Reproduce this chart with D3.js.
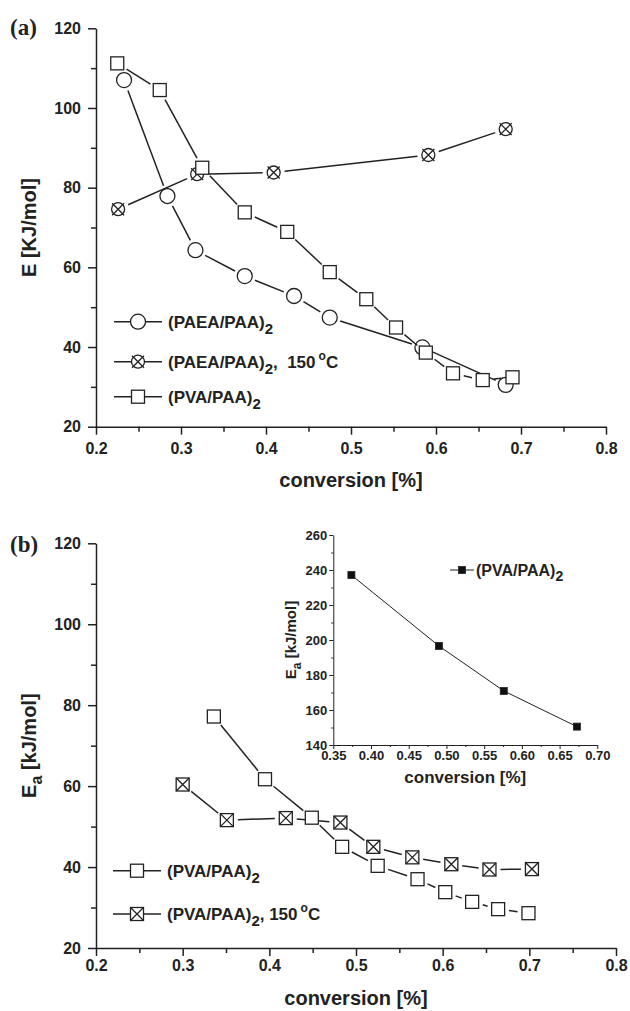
<!DOCTYPE html>
<html>
<head>
<meta charset="utf-8">
<script src="https://cdn.jsdelivr.net/npm/d3@7"></script>
<style>
body { margin: 0; background: #fff; }
svg text { font-family: "Liberation Sans", Arial, Helvetica, sans-serif; font-weight: bold; fill: #222; }
.axis path, .axis line { stroke: #222; stroke-width: 1.5; }
</style>
</head>
<body>
<svg id="chart" width="630" height="1011"></svg>
<script>
// ---- panel (a) data ----
var aXTicks = [0.2, 0.3, 0.4, 0.5, 0.6, 0.7, 0.8];
var aYTicks = [20, 40, 60, 80, 100, 120];
var paeaX = [0.233, 0.284, 0.317, 0.375, 0.433, 0.475, 0.584, 0.682];
var paeaY = [107.0, 77.9, 64.3, 57.8, 52.8, 47.4, 39.9, 30.5];
var paea150X = [0.226, 0.319, 0.409, 0.591, 0.682];
var paea150Y = [74.6, 83.4, 83.8, 88.2, 94.7];
var pvaAX = [0.225, 0.275, 0.325, 0.375, 0.425, 0.475, 0.518, 0.553, 0.588, 0.620, 0.655, 0.690];
var pvaAY = [111.2, 104.5, 85.0, 73.8, 68.9, 58.8, 52.0, 44.9, 38.6, 33.4, 31.7, 32.4];

// ---- panel (b) data ----
var bXTicks = [0.2, 0.3, 0.4, 0.5, 0.6, 0.7, 0.8];
var bYTicks = [20, 40, 60, 80, 100, 120];
var pvaBX = [0.336, 0.395, 0.449, 0.484, 0.525, 0.571, 0.603, 0.634, 0.664, 0.699];
var pvaBY = [77.2, 61.7, 52.2, 45.0, 40.3, 37.0, 33.8, 31.4, 29.6, 28.6];
var pva150X = [0.300, 0.351, 0.419, 0.482, 0.520, 0.565, 0.610, 0.654, 0.703];
var pva150Y = [60.4, 51.6, 52.1, 51.0, 45.0, 42.4, 40.7, 39.4, 39.5];

// ---- inset data ----
var insetXTicks = [0.35, 0.40, 0.45, 0.50, 0.55, 0.60, 0.65, 0.70];
var insetYTicks = [140, 160, 180, 200, 220, 240, 260];
var insetX = [0.374, 0.490, 0.576, 0.673];
var insetY = [237.1, 196.6, 170.9, 150.5];

var svg = d3.select("#chart");

function minorBetween(ticks) {
  var out = [];
  for (var i = 0; i < ticks.length - 1; i++) out.push((ticks[i] + ticks[i + 1]) / 2);
  return out;
}

// marker shapes
function marker(g, type, x, y) {
  var m = g.append("g").attr("transform", "translate(" + x + "," + y + ")")
    .attr("stroke", "#222").attr("stroke-width", 1.3).attr("fill", "#fff");
  if (type == "circle") {
    m.append("circle").attr("r", 7.5);
  } else if (type == "xcircle") {
    m.append("circle").attr("r", 6.5);
    m.append("path").attr("d", "M-6,-6L6,6M-6,6L6,-6").attr("fill", "none");
  } else if (type == "square") {
    m.append("rect").attr("x", -6.5).attr("y", -6.5).attr("width", 13).attr("height", 13);
  } else if (type == "xsquare") {
    m.append("rect").attr("x", -6.5).attr("y", -6.5).attr("width", 13).attr("height", 13);
    m.append("path").attr("d", "M-6.5,-6.5L6.5,6.5M-6.5,6.5L6.5,-6.5").attr("fill", "none");
  } else if (type == "filled") {
    m.attr("fill", "#111").attr("stroke-width", 0.8);
    m.append("rect").attr("x", -3.5).attr("y", -3.5).attr("width", 7).attr("height", 7);
  }
}

// line through points, with small gaps at each marker
function gappedLine(g, pts, gap, width) {
  for (var i = 0; i < pts.length - 1; i++) {
    var p = pts[i], q = pts[i + 1];
    var dx = q[0] - p[0], dy = q[1] - p[1];
    var len = Math.sqrt(dx * dx + dy * dy);
    if (len <= 2 * gap + 1) continue;
    var ux = dx / len, uy = dy / len;
    g.append("line")
      .attr("x1", p[0] + ux * gap).attr("y1", p[1] + uy * gap)
      .attr("x2", q[0] - ux * gap).attr("y2", q[1] - uy * gap)
      .attr("stroke", "#222").attr("stroke-width", width);
  }
}

function series(g, x, y, xs, ys, type, gap) {
  var pts = xs.map(function(d, i) { return [x(d), y(ys[i])]; });
  gappedLine(g, pts, gap, 1.5);
  pts.forEach(function(p) { marker(g, type, p[0], p[1]); });
}

// label with subscript "2" and optional ", 150 °C"
function legendText(t, name, extra, sep) {
  t.append("tspan").text(name);
  t.append("tspan").attr("dy", 6).attr("font-size", 15).text("2");
  if (extra) {
    t.append("tspan").attr("dy", -6).attr("xml:space", "preserve").text("," + sep + "150");
    t.append("tspan").attr("dy", -8).attr("dx", 3).attr("font-size", 12).text("o");
    t.append("tspan").attr("dy", 8).text("C");
  }
}

function legendRow(g, x0, y, type, name, extra, sep) {
  g.append("line").attr("x1", x0).attr("x2", x0 + 48).attr("y1", y).attr("y2", y)
    .attr("stroke", "#222").attr("stroke-width", 1.5);
  marker(g, type, x0 + 24, y);
  var t = g.append("text").attr("x", x0 + 54).attr("y", y + 6).attr("font-size", 17);
  legendText(t, name, extra, sep);
}

function axes(g, x, y, xTicks, yTicks, xFmt, o) {
  var gx = g.append("g").attr("class", "axis").attr("transform", "translate(0," + y.range()[0] + ")");
  gx.call(d3.axisBottom(x).tickValues(xTicks).tickFormat(xFmt).tickSize(o.major).tickSizeOuter(0).tickPadding(o.xPad));
  gx.append("g").call(d3.axisBottom(x).tickValues(minorBetween(xTicks)).tickFormat("").tickSize(o.minor).tickSizeOuter(0))
    .select(".domain").remove();
  var gy = g.append("g").attr("class", "axis").attr("transform", "translate(" + x.range()[0] + ",0)");
  gy.call(d3.axisLeft(y).tickValues(yTicks).tickFormat(d3.format("d")).tickSize(o.major).tickSizeOuter(0).tickPadding(o.yPad));
  gy.append("g").call(d3.axisLeft(y).tickValues(minorBetween(yTicks)).tickFormat("").tickSize(o.minor).tickSizeOuter(0))
    .select(".domain").remove();
  g.selectAll(".axis").attr("font-family", null).attr("font-size", o.font);
  g.selectAll(".axis text").attr("fill", "#222");
}

// ================= panel (a) =================
var xa = d3.scaleLinear().domain([0.2, 0.8]).range([96, 606]);
var ya = d3.scaleLinear().domain([20, 120]).range([426.7, 28.3]);
var ga = svg.append("g");
axes(ga, xa, ya, aXTicks, aYTicks, d3.format(".1f"), {major: 8, minor: 5, xPad: 8, yPad: 7, font: 16});

ga.append("text").attr("x", 10).attr("y", 35).attr("font-size", 23)
  .style("font-family", "'Liberation Serif', 'Times New Roman', serif").text("(a)");
ga.append("text").attr("transform", "translate(36," + (ya(70)) + ") rotate(-90)")
  .attr("text-anchor", "middle").attr("font-size", 20).text("E [KJ/mol]");
ga.append("text").attr("x", (xa.range()[0] + xa.range()[1]) / 2).attr("y", 487)
  .attr("text-anchor", "middle").attr("font-size", 20).text("conversion [%]");

var da = ga.append("g");
series(da, xa, ya, paeaX, paeaY, "circle", 11);
series(da, xa, ya, paea150X, paea150Y, "xcircle", 11);
series(da, xa, ya, pvaAX, pvaAY, "square", 11);

var la = ga.append("g");
legendRow(la, 114, 321.7, "circle", "(PAEA/PAA)", false);
legendRow(la, 114, 361.7, "xcircle", "(PAEA/PAA)", true, "  ");
legendRow(la, 114, 396.7, "square", "(PVA/PAA)", false);

// ================= panel (b) =================
var xb = d3.scaleLinear().domain([0.2, 0.8]).range([96, 616]);
var yb = d3.scaleLinear().domain([20, 120]).range([948, 543.3]);
var gb = svg.append("g");
axes(gb, xb, yb, bXTicks, bYTicks, d3.format(".1f"), {major: 8, minor: 5, xPad: 4, yPad: 7, font: 16});

gb.append("text").attr("x", 10).attr("y", 552).attr("font-size", 23)
  .style("font-family", "'Liberation Serif', 'Times New Roman', serif").text("(b)");
var tb = gb.append("text").attr("transform", "translate(36," + yb(70) + ") rotate(-90)")
  .attr("text-anchor", "middle").attr("font-size", 20);
tb.append("tspan").text("E");
tb.append("tspan").attr("dy", 6).attr("font-size", 16).text("a");
tb.append("tspan").attr("dy", -6).attr("xml:space", "preserve").text(" [kJ/mol]");
gb.append("text").attr("x", (xb.range()[0] + xb.range()[1]) / 2).attr("y", 1005)
  .attr("text-anchor", "middle").attr("font-size", 20).text("conversion [%]");

var db = gb.append("g");
series(db, xb, yb, pva150X, pva150Y, "xsquare", 11);
series(db, xb, yb, pvaBX, pvaBY, "square", 11);

var lb = gb.append("g");
legendRow(lb, 113, 870.7, "square", "(PVA/PAA)", false);
legendRow(lb, 113, 914, "xsquare", "(PVA/PAA)", true, " ");

// ================= inset =================
var xi = d3.scaleLinear().domain([0.35, 0.70]).range([333.3, 597.3]);
var yi = d3.scaleLinear().domain([140, 260]).range([745, 535]);
var gi = svg.append("g");
var gix = gi.append("g").attr("class", "axis").attr("transform", "translate(0,745)");
gix.call(d3.axisBottom(xi).tickValues(insetXTicks).tickFormat(d3.format(".2f")).tickSize(4).tickSizeOuter(0).tickPadding(2));
gix.append("g").call(d3.axisBottom(xi).tickValues(minorBetween(insetXTicks)).tickFormat("").tickSize(2).tickSizeOuter(0))
  .select(".domain").remove();
var giy = gi.append("g").attr("class", "axis").attr("transform", "translate(333.3,0)");
giy.call(d3.axisLeft(yi).tickValues(insetYTicks).tickFormat(d3.format("d")).tickSize(4).tickSizeOuter(0).tickPadding(2));
giy.append("g").call(d3.axisLeft(yi).tickValues(minorBetween(insetYTicks)).tickFormat("").tickSize(2).tickSizeOuter(0))
  .select(".domain").remove();
gi.selectAll(".axis").attr("font-family", null).attr("font-size", 13);
gi.selectAll(".axis path, .axis line").style("stroke-width", 1);
gi.selectAll(".axis text").attr("fill", "#222");

var ti = gi.append("text").attr("transform", "translate(296," + yi(200) + ") rotate(-90)")
  .attr("text-anchor", "middle").attr("font-size", 15);
ti.append("tspan").text("E");
ti.append("tspan").attr("dy", 5).attr("font-size", 12).text("a");
ti.append("tspan").attr("dy", -5).attr("xml:space", "preserve").text(" [kJ/mol]");
gi.append("text").attr("x", (xi.range()[0] + xi.range()[1]) / 2).attr("y", 783)
  .attr("text-anchor", "middle").attr("font-size", 17).text("conversion [%]");

gi.append("path")
  .datum(insetX.map(function(d, i) { return [d, insetY[i]]; }))
  .attr("fill", "none").attr("stroke", "#222").attr("stroke-width", 1)
  .attr("d", d3.line().x(function(d) { return xi(d[0]); }).y(function(d) { return yi(d[1]); }));
insetX.forEach(function(d, i) { marker(gi, "filled", xi(d), yi(insetY[i])); });

gi.append("line").attr("x1", 450).attr("x2", 474).attr("y1", 570).attr("y2", 570)
  .attr("stroke", "#222").attr("stroke-width", 1);
marker(gi, "filled", 462, 570);
var tl = gi.append("text").attr("x", 476).attr("y", 576).attr("font-size", 16);
tl.append("tspan").text("(PVA/PAA)");
tl.append("tspan").attr("dy", 5).attr("font-size", 14).text("2");
</script>
</body>
</html>
